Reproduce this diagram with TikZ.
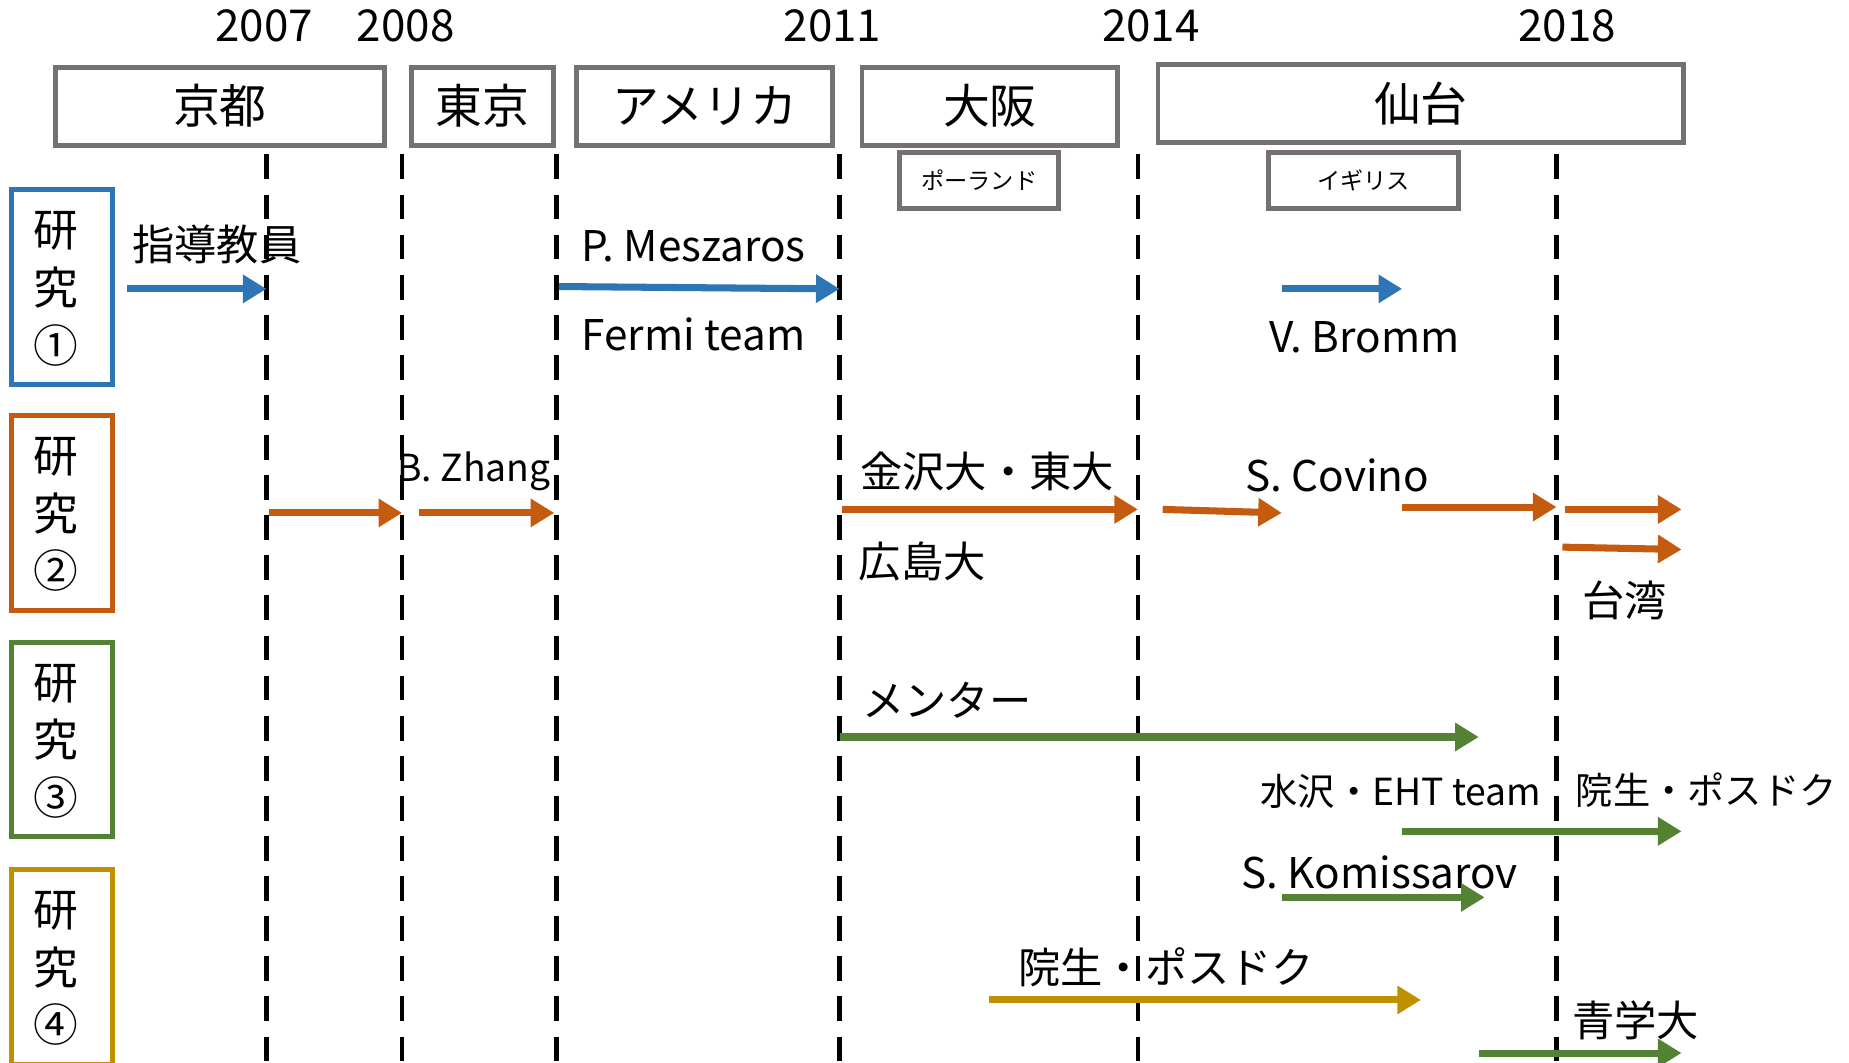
\documentclass[tikz,border=0pt]{standalone}
\usepackage{fontspec}
\setmainfont{Noto Sans CJK JP}
\usetikzlibrary{arrows.meta}
\definecolor{boxgray}{HTML}{767171}
\definecolor{rblue}{HTML}{2E75B6}
\definecolor{rorange}{HTML}{C55A11}
\definecolor{rgreen}{HTML}{548235}
\definecolor{rgold}{HTML}{BF9000}
\begin{document}
\begin{tikzpicture}[x=0.1mm,y=-0.1mm,
  place/.style={draw=boxgray,line width=1.2pt,fill=white,inner sep=0pt,minimum height=6.6mm,font=\fontsize{11.3}{13}\selectfont},
  subplace/.style={draw=boxgray,line width=1.2pt,fill=white,inner sep=0pt,minimum height=4.8mm,font=\fontsize{5.6}{7}\selectfont},
  resbox/.style={line width=1.2pt,fill=white,inner sep=0pt,minimum width=8.5mm,minimum height=16.5mm},
  restext/.style={inner sep=0pt,align=center,font=\fontsize{10.8}{13.9}\selectfont},
  year/.style={inner sep=0pt,font=\fontsize{10.6}{12}\selectfont},
  lbl/.style={inner sep=0pt,font=\fontsize{10.2}{12}\selectfont},
  slbl/.style={inner sep=0pt,font=\fontsize{9}{11}\selectfont},
  vline/.style={line width=1.15pt,dash pattern=on 2.1mm off 1.3mm},
  arr/.style={line width=1.7pt,-{Triangle[length=2.0mm,width=2.3mm]}}
]
\useasboundingbox (0,0) rectangle (1568,901);
% dashed year lines
\foreach \n/\x in {a/226,b/341,c/472,d/712,e/965,f/1320}{
  \coordinate (\n t) at (\x,131);
  \coordinate (\n b) at (\x,905);
  \draw[vline] (\n t) -- (\n b);
}
% years
\node[year] (y2007) at (224,22) {2007};
\node[year] (y2008) at (344,22) {2008};
\node[year] (y2011) at (706,22) {2011};
\node[year] (y2014) at (976,22) {2014};
\node[year] (y2018) at (1329,22) {2018};
% places
\node[place,minimum width=27.9mm] (kyoto) at (186.5,90) {京都};
\node[place,minimum width=12.0mm] (tokyo) at (409,90) {東京};
\node[place,minimum width=21.7mm] (usa) at (597.5,90) {アメリカ};
\node[place,minimum width=21.7mm] (osaka) at (839.5,90) {大阪};
\node[place,minimum width=44.6mm] (sendai) at (1205,88) {仙台};
\node[subplace,minimum width=13.5mm] (poland) at (830.5,153) {ポーランド};
\node[subplace,minimum width=16.1mm] (uk) at (1156.5,153) {イギリス};
% research boxes
\node[resbox,draw=rblue] (r1) at (52.5,243.5) {};
\node[resbox,draw=rorange] (r2) at (52.5,435) {};
\node[resbox,draw=rgreen] (r3) at (52.5,627) {};
\node[resbox,draw=rgold] (r4) at (52.5,820) {};
\node[restext] (r1t) at (47,245) {研\\究\\①};
\node[restext] (r2t) at (47,436.5) {研\\究\\②};
\node[restext] (r3t) at (47,628.5) {研\\究\\③};
\node[restext] (r4t) at (47,821.5) {研\\究\\④};
% labels
\node[lbl] (t1) at (184,207) {指導教員};
\node[lbl] (t2) at (588,209) {P. Meszaros};
\node[lbl] (t3) at (588,284) {Fermi team};
\node[lbl] (t4) at (1157,286) {V. Bromm};
\node[slbl] (t5) at (402,400) {B. Zhang};
\node[lbl] (t6) at (837,400) {金沢大・東大};
\node[lbl] (t7) at (782,476) {広島大};
\node[lbl] (t8) at (1134,403) {S. Covino};
\node[lbl] (t9) at (1378,509) {台湾};
\node[lbl] (t10) at (803,594) {メンター};
\node[slbl] (t11) at (1188,671) {水沢・EHT team};
\node[slbl] (t12) at (1447,670) {院生・ポスドク};
\node[lbl] (t13) at (1170,740) {S. Komissarov};
\node[lbl] (t14) at (989,820) {院生・ポスドク};
\node[lbl] (t15) at (1387,865) {青学大};
% blue arrows
\coordinate (b1s) at (108,245); \coordinate (b1e) at (226,245);
\coordinate (b2s) at (474,243); \coordinate (b2e) at (712,245);
\coordinate (b3s) at (1087,245); \coordinate (b3e) at (1189,245);
\foreach \n in {1,2,3}{\draw[arr,rblue] (b\n s) -- (b\n e);}
% orange arrows
\coordinate (o1s) at (228,435); \coordinate (o1e) at (341,435);
\coordinate (o2s) at (355,435); \coordinate (o2e) at (470,435);
\coordinate (o3s) at (714,432); \coordinate (o3e) at (965,432);
\coordinate (o4s) at (986,432); \coordinate (o4e) at (1087,435);
\coordinate (o5s) at (1189,430); \coordinate (o5e) at (1320,430);
\coordinate (o6s) at (1327,432); \coordinate (o6e) at (1426,432);
\coordinate (o7s) at (1325,464); \coordinate (o7e) at (1426,466);
\foreach \n in {1,...,7}{\draw[arr,rorange] (o\n s) -- (o\n e);}
% green arrows
\coordinate (g1s) at (712,625); \coordinate (g1e) at (1254,625);
\coordinate (g2s) at (1189,705); \coordinate (g2e) at (1426,705);
\coordinate (g3s) at (1087,761); \coordinate (g3e) at (1259,761);
\coordinate (g4s) at (1254,893); \coordinate (g4e) at (1426,893);
\foreach \n in {1,...,4}{\draw[arr,rgreen] (g\n s) -- (g\n e);}
% gold arrow
\coordinate (y1s) at (839,848); \coordinate (y1e) at (1205,848);
\draw[arr,rgold] (y1s) -- (y1e);
\end{tikzpicture}
\end{document}
